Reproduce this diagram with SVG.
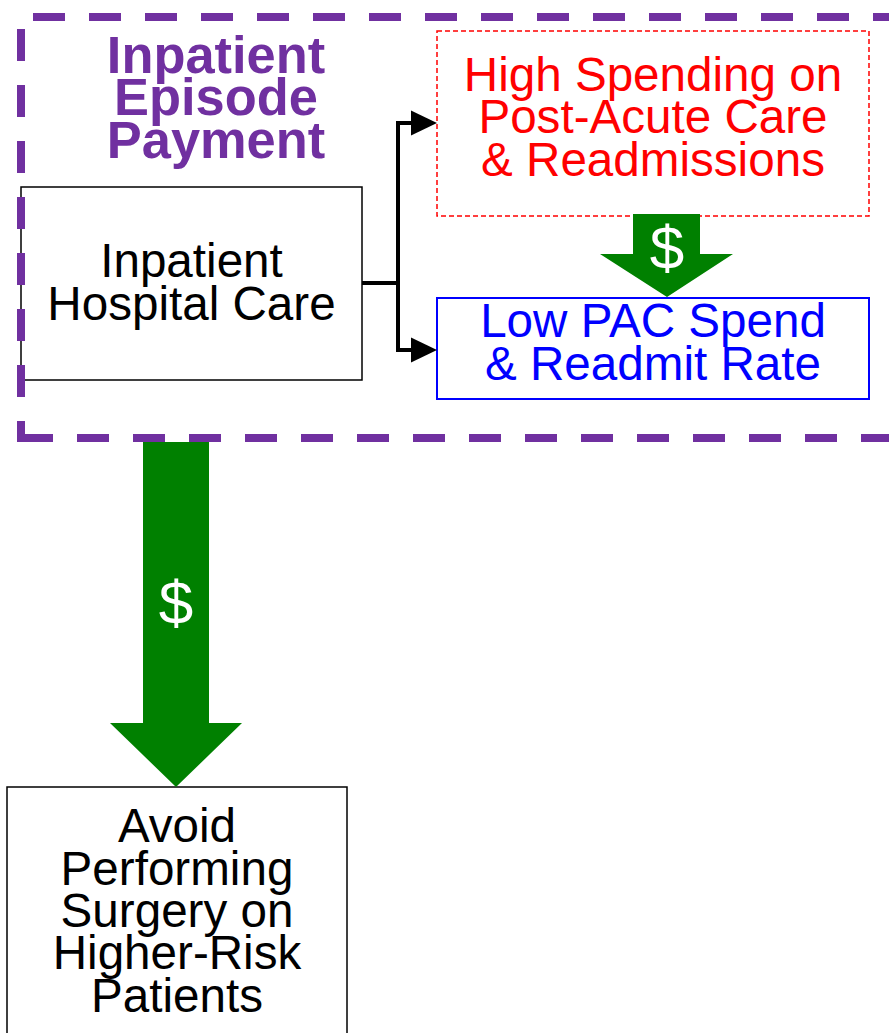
<svg xmlns="http://www.w3.org/2000/svg" width="889" height="1033" viewBox="0 0 889 1033">
<style>
.t{font-family:"Liberation Sans",Arial,sans-serif;font-size:47.6px;text-anchor:middle}
.title{font-family:"Liberation Sans",Arial,sans-serif;font-size:52.4px;font-weight:bold;fill:#7030A0;text-anchor:middle}
.dollar{font-family:"Liberation Sans",Arial,sans-serif;font-size:62px;fill:#ffffff;text-anchor:middle}
.money{fill:#008000}
</style>
<rect width="889" height="1033" fill="#ffffff"/>
<g id="node-inpatient-care">
<rect x="21" y="187" width="341" height="193" fill="#ffffff" stroke="#000000" stroke-width="1.5"/>
<text class="t" x="191.5" y="277" fill="#000000">Inpatient</text>
<text class="t" x="191.5" y="320" fill="#000000">Hospital Care</text>
</g>
<g id="node-high-spending">
<rect x="437" y="31" width="432" height="185" fill="#ffffff" stroke="#FF0000" stroke-width="1.5" stroke-dasharray="5 3"/>
<text class="t" x="653" y="91" fill="#FF0000">High Spending on</text>
<text class="t" x="653" y="133" fill="#FF0000">Post-Acute Care</text>
<text class="t" x="653" y="176" fill="#FF0000">&amp; Readmissions</text>
</g>
<g id="node-low-pac">
<rect x="437" y="298" width="432" height="101" fill="#ffffff" stroke="#0000FF" stroke-width="2"/>
<text class="t" x="653" y="337" fill="#0000FF">Low PAC Spend</text>
<text class="t" x="653" y="380" fill="#0000FF">&amp; Readmit Rate</text>
</g>
<g id="node-avoid-surgery">
<rect x="7" y="787" width="340" height="260" fill="#ffffff" stroke="#000000" stroke-width="1.5"/>
<text class="t" x="177" y="842" fill="#000000">Avoid</text>
<text class="t" x="177" y="885" fill="#000000">Performing</text>
<text class="t" x="177" y="927" fill="#000000">Surgery on</text>
<text class="t" x="177" y="969" fill="#000000">Higher-Risk</text>
<text class="t" x="177" y="1012" fill="#000000">Patients</text>
</g>
<g id="group-inpatient-episode-payment">
<path d="M21,438 H896.5 V17 H21 Z" fill="none" stroke="#7030A0" stroke-width="8" stroke-dasharray="32 24"/>
<text class="title" x="216" y="73">Inpatient</text>
<text class="title" x="216" y="115">Episode</text>
<text class="title" x="216" y="158">Payment</text>
</g>
<g id="connectors">
<path d="M362,283 H398 V123 H414 M398,283 V350 H414" fill="none" stroke="#000000" stroke-width="4"/>
<polygon points="411,110.5 437,123 411,135.5" fill="#000000"/>
<polygon points="411,337.5 437,350 411,362.5" fill="#000000"/>
<g id="money-arrow-small">
<polygon class="money" points="633,214 700,214 700,254 733,254 667,297 600,254 633,254"/>
<text class="dollar" x="667" y="269">$</text>
</g>
<g id="money-arrow-large">
<polygon class="money" points="143,442 209,442 209,723 242,723 176,787 110,723 143,723"/>
<text class="dollar" x="176" y="624">$</text>
</g>
</g>
</svg>
